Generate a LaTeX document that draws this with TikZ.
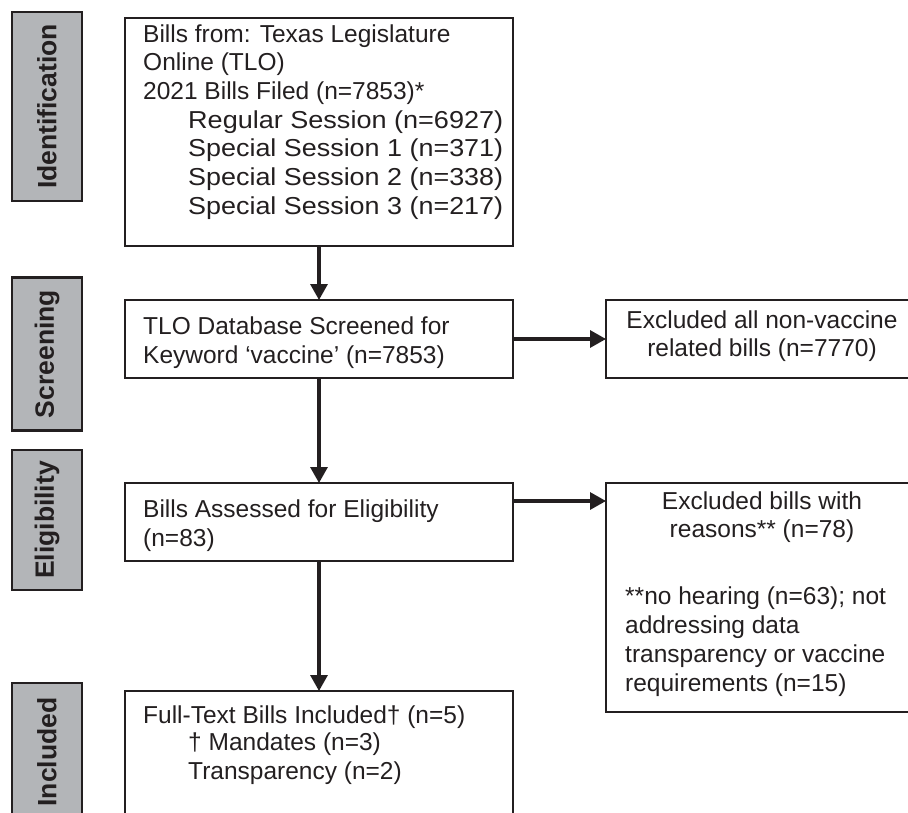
\documentclass[tikz,border=0pt]{standalone}
\usepackage{fontspec}
\usepackage{graphicx}
\setmainfont{Liberation Sans}
\usetikzlibrary{arrows.meta}
\definecolor{ink}{HTML}{231F20}
\definecolor{tabgrey}{HTML}{B3B5B8}
\newcommand{\sessline}[1]{\hspace*{45pt}\resizebox{315pt}{\height}{#1}}
\begin{document}
\begin{tikzpicture}[x=1pt,y=-1pt,
  box/.style={draw=ink, line width=2.2pt, inner sep=0pt, outer sep=0pt, anchor=north west},
  tab/.style={draw=ink, fill=tabgrey, line width=2.2pt, inner sep=0pt, rotate=90,
    font=\fontsize{26.5}{30}\selectfont\bfseries, text=ink, minimum height=70pt},
  txt/.style={inner sep=0pt, anchor=base west, align=left,
    font=\fontsize{24.5}{28.7}\selectfont, text=ink},
  ctxt/.style={txt, anchor=base, align=center},
  arr/.style={draw=ink, line width=3.2pt, -{Triangle[length=16pt,width=17pt]}}]
\useasboundingbox (0,0) rectangle (908,812);
\clip (0,0) rectangle (908,812);
% stage tabs
\node[tab, minimum width=189pt] (s1) at (47,106.5) {Identification};
\node[tab, minimum width=153pt] (s2) at (47,354) {Screening};
\node[tab, minimum width=140pt] (s3) at (47,520) {Eligibility};
\node[tab, minimum width=138pt] (s4) at (47,752) {Included};
% main boxes (text nodes anchored on the baseline of their last line)
\node[box, minimum width=388pt, minimum height=228pt] (b1) at (125,18) {};
\node[txt] (t1) at (143,214.2) {Bills from: Texas Legislature\\Online (TLO)\\2021 Bills Filed (n=7853)*\\
  \sessline{Regular Session (n=6927)}\\\sessline{Special Session 1 (n=371)}\\
  \sessline{Special Session 2 (n=338)}\\\sessline{Special Session 3 (n=217)}};
\node[box, minimum width=388pt, minimum height=78pt] (b2) at (125,300) {};
\node[txt] (t2) at (143,363) {TLO Database Screened for\\Keyword ‘vaccine’ (n=7853)};
\node[box, minimum width=388pt, minimum height=78pt] (b3) at (125,483) {};
\node[txt] (t3) at (143,546) {Bills Assessed for Eligibility\\(n=83)};
\node[box, minimum width=388pt, minimum height=140pt] (b4) at (125,691) {};
\node[txt] (t4) at (143,723) {Full-Text Bills Included† (n=5)};
\node[txt] (t5) at (188,779) {† Mandates (n=3)\\Transparency (n=2)};
% exclusion boxes
\node[box, minimum width=312pt, minimum height=78pt] (r1) at (606,300) {};
\node[ctxt] (u1) at (762,356.7) {Excluded all non-vaccine\\related bills (n=7770)};
\node[box, minimum width=312pt, minimum height=229pt] (r2) at (606,483) {};
\node[ctxt] (u2) at (762,537.7) {Excluded bills with\\reasons** (n=78)};
\node[txt] (u3) at (625,691) {**no hearing (n=63); not\\addressing data\\transparency or vaccine\\requirements (n=15)};
% connectors
\draw[arr] (b1.south) -- (b2.north);
\draw[arr] (b2.south) -- (b3.north);
\draw[arr] (b3.south) -- (b4.north);
\draw[arr] (b2.east) -- (b2.east -| r1.west);
\coordinate (a5) at ([yshift=-18pt]b3.north east);
\draw[arr] (a5) -- (a5 -| r2.west);
\end{tikzpicture}
\end{document}
